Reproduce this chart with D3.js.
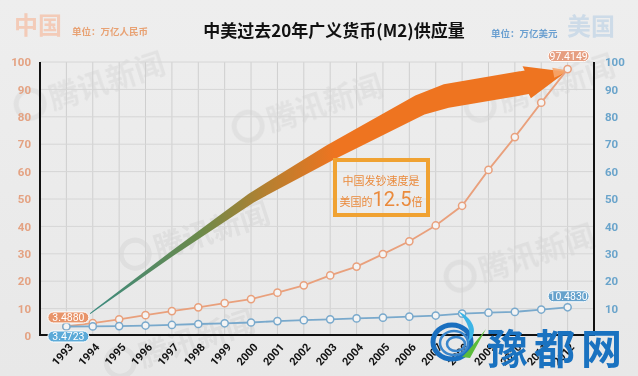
<!DOCTYPE html>
<html>
<head>
<meta charset="utf-8">
<script src="https://cdn.jsdelivr.net/npm/d3@7"></script>
<style>
  html, body { margin: 0; padding: 0; background: #ececec; }
  svg { display: block; font-family: "Noto Sans CJK SC", "Noto Sans", sans-serif; }
</style>
</head>
<body>
<div id="drawing"></div>
<script>
const width = 638;
const height = 376;
const plot = {left: 40, right: 594, top: 62, bottom: 336};

// data (万亿)
const years = [1993, 1994, 1995, 1996, 1997, 1998, 1999, 2000, 2001, 2002,
               2003, 2004, 2005, 2006, 2007, 2008, 2009, 2010, 2011, 2012];
const chinaM2 = [3.4880, 4.69, 6.08, 7.61, 9.10, 10.45, 11.99, 13.46, 15.83, 18.50,
                 22.12, 25.32, 29.88, 34.56, 40.34, 47.52, 60.62, 72.59, 85.16, 97.4149];
const usM2 = [3.4723, 3.49, 3.63, 3.82, 4.03, 4.38, 4.64, 4.93, 5.43, 5.77,
              6.07, 6.42, 6.68, 7.07, 7.47, 8.19, 8.50, 8.80, 9.66, 10.4830];
const leftTicks = [0, 10, 20, 30, 40, 50, 60, 70, 80, 90, 100];
const rightTicks = [10, 20, 30, 40, 50, 60, 70, 80, 90, 100];

// the big "growth" arrow, in year / value space, w = half width in px
const arrowSpine = [
  {year: 1993.9, value: 8.2, w: 0.5},
  {year: 1997.0, value: 30.0, w: 2.5},
  {year: 2000.0, value: 50.3, w: 5},
  {year: 2003.0, value: 67.0, w: 8},
  {year: 2006.4, value: 84.3, w: 10.5},
  {year: 2007.4, value: 87.6, w: 12},
  {year: 2010.45, value: 92.6, w: 12}
];
const arrowTip = {year: 2011.95, value: 96.4};
const arrowHeadW = 16.5;

let svg, xScale, yScale;

function setup(){
  svg = d3.select("#drawing").append("svg")
    .attr("width", width)
    .attr("height", height);

  const defs = svg.append("defs");
  const bg = defs.append("linearGradient").attr("id", "bg")
    .attr("x1", 0).attr("y1", 0).attr("x2", 0).attr("y2", 1);
  bg.append("stop").attr("offset", 0).attr("stop-color", "#eeeeee");
  bg.append("stop").attr("offset", 1).attr("stop-color", "#e8e8e8");

  svg.append("rect").attr("width", width).attr("height", height).attr("fill", "url(#bg)");

  xScale = d3.scaleLinear().domain([1992, 2013]).range([plot.left, plot.right]);
  yScale = d3.scaleLinear().domain([0, 100]).range([plot.bottom, plot.top]);
}

function watermarks(){
  // faint 腾讯新闻 marks
  const marks = [[20, 118], [125, 268], [238, 140], [450, 290], [110, 376], [470, 120]];
  const g = svg.append("g").attr("opacity", 0.045);
  marks.forEach(([x, y]) => {
    const m = g.append("g").attr("transform", `translate(${x},${y}) rotate(-18)`);
    m.append("circle").attr("cx", 14).attr("cy", -10).attr("r", 14)
      .attr("fill", "none").attr("stroke", "#000").attr("stroke-width", 5);
    m.append("text").attr("x", 34).attr("y", 2)
      .attr("font-size", 30).attr("font-weight", 700).attr("fill", "#000")
      .text("腾讯新闻");
  });
}

function grid(){
  const g = svg.append("g").attr("class", "grid");
  g.selectAll(".vline").data(years).enter().append("line")
    .attr("x1", d => xScale(d)).attr("x2", d => xScale(d))
    .attr("y1", plot.top).attr("y2", plot.bottom)
    .attr("stroke", "#cfcfcf").attr("stroke-width", 1);
  g.selectAll(".hline").data(rightTicks).enter().append("line")
    .attr("x1", plot.left).attr("x2", plot.right)
    .attr("y1", d => yScale(d)).attr("y2", d => yScale(d))
    .attr("stroke", "#d6d6d6").attr("stroke-width", 1);
}

function axes(){
  const left = svg.append("g")
    .attr("transform", `translate(${plot.left - 6},0)`)
    .call(d3.axisLeft(yScale).tickValues(leftTicks).tickSize(0).tickFormat(d3.format("d")));
  left.select(".domain").remove();
  left.selectAll("text")
    .attr("fill", "#e4a282").attr("font-size", 11.5).attr("font-weight", 700)
    .attr("font-family", "Roboto, sans-serif");

  const right = svg.append("g")
    .attr("transform", `translate(${plot.right + 8},0)`)
    .call(d3.axisRight(yScale).tickValues(rightTicks).tickSize(0).tickFormat(d3.format("d")));
  right.select(".domain").remove();
  right.selectAll("text")
    .attr("fill", "#6aa4cb").attr("font-size", 11.5).attr("font-weight", 700)
    .attr("font-family", "Roboto, sans-serif");

  const bottom = svg.append("g")
    .attr("transform", `translate(0,${plot.bottom})`)
    .call(d3.axisBottom(xScale).tickValues(years).tickSize(0).tickFormat(d3.format("d")));
  bottom.select(".domain").remove();
  bottom.selectAll("text")
    .attr("x", 0).attr("y", 0).attr("dy", "0.35em")
    .attr("transform", "translate(4,9) rotate(-48)")
    .attr("text-anchor", "end")
    .attr("fill", "#111").attr("font-size", 11).attr("font-weight", 700)
    .attr("font-family", "Roboto, sans-serif");

  // black frame: left, bottom, right
  svg.append("path")
    .attr("d", `M${plot.left},${plot.top}V${plot.bottom - 1}H${plot.right}V${plot.top}`)
    .attr("fill", "none").attr("stroke", "#111").attr("stroke-width", 2);
}

function arrow(){
  const defs = svg.select("defs");
  const x0 = xScale(arrowSpine[0].year);
  const grad = defs.append("linearGradient").attr("id", "arrowGrad")
    .attr("gradientUnits", "userSpaceOnUse")
    .attr("x1", x0).attr("y1", 0).attr("x2", xScale(2003.2)).attr("y2", 0);
  grad.append("stop").attr("offset", 0).attr("stop-color", "#3a8a80");
  grad.append("stop").attr("offset", 0.45).attr("stop-color", "#6c8a4a");
  grad.append("stop").attr("offset", 0.72).attr("stop-color", "#b68030");
  grad.append("stop").attr("offset", 1).attr("stop-color", "#ee7420");

  const pts = arrowSpine.map(d => ({x: xScale(d.year), y: yScale(d.value), w: d.w}));
  const upper = [], lower = [];
  pts.forEach((p, i) => {
    const a = pts[Math.max(0, i - 1)], b = pts[Math.min(pts.length - 1, i + 1)];
    const dx = b.x - a.x, dy = b.y - a.y, len = Math.hypot(dx, dy);
    const nx = dy / len, ny = -dx / len;
    upper.push([p.x + nx * p.w, p.y + ny * p.w]);
    lower.push([p.x - nx * p.w, p.y - ny * p.w]);
  });
  const last = pts[pts.length - 1];
  const tip = [xScale(arrowTip.year), yScale(arrowTip.value)];
  const dx = tip[0] - last.x, dy = tip[1] - last.y, len = Math.hypot(dx, dy);
  const nx = dy / len, ny = -dx / len;
  const head = [
    [last.x + nx * arrowHeadW, last.y + ny * arrowHeadW],
    tip,
    [last.x - nx * arrowHeadW, last.y - ny * arrowHeadW]
  ];
  const poly = upper.concat(head).concat(lower.reverse());
  svg.append("path")
    .attr("d", d3.line()(poly) + "Z")
    .attr("fill", "url(#arrowGrad)");
  // lighter tip
  svg.append("path")
    .attr("d", d3.line()([
      [tip[0] - 14, tip[1] - 4], [tip[0] + 3, tip[1] - 1], [tip[0] - 12, tip[1] + 6]
    ]) + "Z")
    .attr("fill", "#f6a66c").attr("opacity", 0.9);
}

function series(values, color, cls){
  const data = years.map((y, i) => ({year: y, value: values[i]}));
  const line = d3.line().x(d => xScale(d.year)).y(d => yScale(d.value));
  svg.append("path").datum(data)
    .attr("d", line)
    .attr("fill", "none").attr("stroke", color).attr("stroke-width", 1.8);
  svg.selectAll("." + cls).data(data).enter().append("circle")
    .attr("class", cls)
    .attr("cx", d => xScale(d.year)).attr("cy", d => yScale(d.value))
    .attr("r", 3.6)
    .attr("fill", "#f4f4f4").attr("stroke", color).attr("stroke-width", 1.5);
}

function badge(cx, cy, text, fill){
  const w = 41, h = 11;
  svg.append("rect")
    .attr("x", cx - w / 2).attr("y", cy - h / 2).attr("width", w).attr("height", h)
    .attr("rx", 5.5).attr("fill", fill).attr("stroke", "#ffffff").attr("stroke-width", 1);
  svg.append("text")
    .attr("x", cx).attr("y", cy).attr("dy", "0.36em")
    .attr("text-anchor", "middle").attr("fill", "#fff")
    .attr("font-size", 10.5).attr("font-family", "Roboto, sans-serif")
    .text(text);
}

function labels(){
  const n = years.length - 1;
  badge(xScale(years[0]) + 2, yScale(chinaM2[0]) - 9, chinaM2[0].toFixed(4), "#e8946a");
  badge(xScale(years[0]) + 2, yScale(usM2[0]) + 10, usM2[0].toFixed(4), "#5caad8");
  badge(xScale(years[n]) + 1, yScale(chinaM2[n]) - 13, chinaM2[n].toFixed(4), "#e69e80");
  badge(xScale(years[n]) + 1, yScale(usM2[n]) - 11, usM2[n].toFixed(4), "#66a2cc");

  // annotation box
  svg.append("rect")
    .attr("x", 335).attr("y", 160).attr("width", 93).attr("height", 55)
    .attr("fill", "rgba(240,240,240,0.35)")
    .attr("stroke", "#f0a232").attr("stroke-width", 4);
  svg.append("text")
    .attr("x", 381).attr("y", 185).attr("text-anchor", "middle")
    .attr("fill", "#ea8a3c").attr("font-size", 11)
    .text("中国发钞速度是");
  const t = svg.append("text")
    .attr("x", 381).attr("y", 206).attr("text-anchor", "middle")
    .attr("fill", "#ea8a3c").attr("font-size", 11);
  t.append("tspan").text("美国的");
  t.append("tspan").attr("font-size", 20).attr("font-family", "Roboto, sans-serif").text("12.5");
  t.append("tspan").text("倍");

  // header
  svg.append("text").attr("x", 14).attr("y", 34)
    .attr("font-size", 24).attr("font-weight", 700).attr("fill", "#f3cbb8")
    .text("中国");
  svg.append("text").attr("x", 72).attr("y", 35)
    .attr("font-size", 9.5).attr("font-weight", 700).attr("fill", "#e8a274")
    .text("单位：万亿人民币");
  svg.append("text").attr("x", 334).attr("y", 37).attr("text-anchor", "middle")
    .attr("font-size", 17).attr("font-weight", 700).attr("fill", "#111")
    .text("中美过去20年广义货币(M2)供应量");
  svg.append("text").attr("x", 491).attr("y", 37)
    .attr("font-size", 9.5).attr("font-weight", 700).attr("fill", "#6a9fd0")
    .text("单位：万亿美元");
  svg.append("text").attr("x", 567).attr("y", 35)
    .attr("font-size", 24).attr("font-weight", 700).attr("fill", "#cddbe8")
    .text("美国");
}

function siteLogo(){
  const g = svg.append("g");
  // swirl
  [17, 12, 7].forEach((r, i) => {
    g.append("ellipse")
      .attr("cx", 452 + i * 2).attr("cy", 342 + i).attr("rx", r + 2).attr("ry", r)
      .attr("fill", "none").attr("stroke", i === 0 ? "#1a6fbf" : "#3a86cc")
      .attr("stroke-width", i === 0 ? 5 : 2.5);
  });
  g.append("path")
    .attr("d", "M458,311 C476,320 478,334 468,342 C472,332 468,322 458,311Z")
    .attr("fill", "#3cb4e6");
  g.append("path")
    .attr("d", "M462,357 L468,351 L486,329 L470,358Z")
    .attr("fill", "#5cbc3c");
  g.append("text").attr("x", 487).attr("y", 364)
    .attr("font-size", 41).attr("font-weight", 700).attr("fill", "#1a72c0")
    .attr("letter-spacing", 6)
    .text("豫都网");
}

setup();
watermarks();
grid();
arrow();
series(chinaM2, "#e9a07c", "cn");
series(usM2, "#79a9cc", "us");
axes();
labels();
siteLogo();
</script>
</body>
</html>
